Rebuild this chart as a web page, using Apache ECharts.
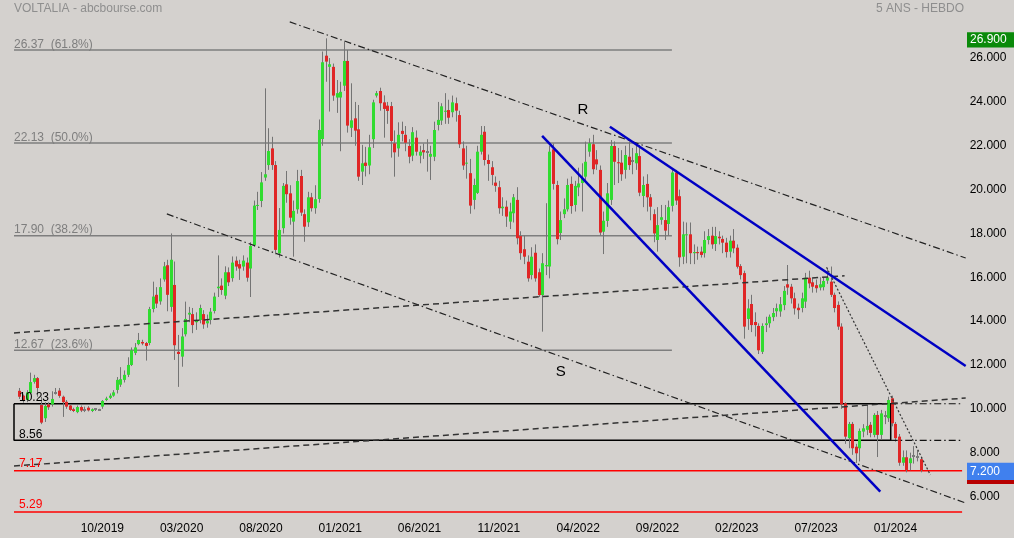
<!DOCTYPE html>
<html><head><meta charset="utf-8">
<script src="https://cdn.jsdelivr.net/npm/echarts@6/dist/echarts.min.js"></script>
<style>html,body{margin:0;padding:0;background:#d4d1ce}#c{width:1014px;height:538px}</style>
</head><body><div id="c"></div>
<script>
// ---- weekly OHLC (oldest first) ----
const opens = [
10.82,10.60,10.40,10.72,11.23,11.40,10.17,9.57,10.20,10.20,
10.74,10.83,10.55,10.32,10.15,9.98,9.85,10.08,9.95,10.05,
9.90,9.97,9.96,10.10,10.40,10.50,10.60,10.86,11.10,11.32,
11.55,12.00,12.55,12.95,13.05,13.00,13.00,14.55,15.20,14.90,
15.90,16.55,14.65,15.65,12.60,12.38,13.40,14.30,14.32,13.95,
14.05,14.32,13.90,14.05,14.46,15.50,15.62,15.16,16.23,15.96,
16.76,16.60,16.49,16.67,16.40,17.47,19.27,19.48,20.55,21.12,
21.88,21.12,17.09,18.24,20.24,19.83,18.54,19.10,20.62,18.88,
18.51,19.65,19.15,19.57,22.31,26.11,25.60,25.60,24.20,24.20,
24.74,25.87,22.82,23.25,22.75,20.82,21.23,21.10,22.30,24.29,
24.50,23.98,23.83,23.81,22.11,21.88,22.68,22.50,21.99,21.55,
22.37,21.55,21.80,21.72,21.50,21.50,22.95,23.15,23.55,23.63,
23.53,23.94,23.40,21.88,21.20,20.75,19.53,19.85,21.73,22.64,
21.35,21.02,20.32,20.11,19.15,19.22,18.54,18.92,19.53,17.88,
17.28,16.71,16.10,17.12,16.23,15.19,16.50,16.49,21.84,20.21,
18.02,18.88,19.10,20.26,19.30,20.10,20.30,20.59,21.73,22.07,
21.38,20.90,18.08,18.57,19.53,21.99,21.25,21.23,20.90,21.50,
21.30,21.20,21.53,19.71,20.26,19.65,18.88,17.70,18.62,18.61,
18.43,19.26,20.78,19.70,16.94,17.93,17.96,17.10,17.15,17.17,
17.10,17.70,17.90,17.52,17.85,17.75,17.58,17.17,17.67,17.35,
16.51,16.19,14.10,14.78,13.96,13.78,12.60,13.82,13.90,14.18,
14.45,14.44,14.73,15.68,15.57,15.04,14.61,14.60,14.89,15.98,
15.77,15.64,15.53,15.55,15.85,15.80,15.20,14.74,13.75,10.25,
8.66,9.31,8.27,8.20,8.96,9.04,9.27,8.81,9.72,8.81,
9.63,9.57,10.48,9.31,8.73,7.54,7.79,7.52,7.83,7.85,
7.70];
const closes = [
10.55,10.40,10.75,11.22,11.40,10.95,9.37,10.13,10.07,10.45,
10.74,10.59,10.30,10.10,9.95,9.90,10.08,9.92,9.95,9.93,
9.98,9.97,9.96,10.36,10.47,10.60,10.75,11.32,11.35,11.55,
12.00,12.67,12.80,13.14,12.98,12.87,14.55,15.12,14.80,15.55,
16.50,15.20,16.80,12.90,12.50,13.30,14.10,14.38,13.82,14.05,
14.60,13.85,14.00,14.43,15.12,15.57,15.42,16.23,15.77,16.67,
16.49,16.40,16.76,15.98,17.43,19.27,19.30,20.33,20.70,21.76,
21.12,17.25,18.16,20.17,19.79,18.72,19.03,20.39,18.95,18.31,
19.65,19.15,19.56,22.72,25.81,25.84,25.72,24.29,24.40,24.46,
25.87,22.92,23.16,22.69,20.59,21.20,21.08,21.93,23.98,24.40,
23.94,23.68,23.59,22.22,21.70,22.50,22.54,22.14,21.50,22.62,
21.73,21.73,21.70,21.72,21.63,22.72,23.18,23.80,23.60,23.28,
23.98,23.60,22.07,21.10,21.23,19.27,20.21,21.73,22.50,21.35,
21.17,20.67,20.17,19.15,19.22,18.77,19.00,19.65,17.78,17.10,
16.94,15.95,16.94,15.95,15.19,16.64,16.56,21.73,20.26,17.74,
18.61,19.10,20.21,19.25,20.17,20.28,20.53,21.27,22.11,20.93,
21.15,18.04,18.58,19.83,21.99,21.27,21.20,20.70,21.58,21.12,
21.32,21.66,19.86,20.21,19.65,19.22,18.00,18.38,18.74,18.13,
19.20,20.78,19.50,16.91,17.96,17.96,17.10,17.15,17.10,17.02,
17.70,17.88,17.50,17.88,17.78,17.58,17.15,17.67,17.32,16.48,
16.10,13.75,14.58,13.82,13.82,12.67,13.78,13.90,14.20,14.37,
14.59,14.77,15.38,15.53,15.04,14.58,14.50,15.04,15.98,15.72,
15.57,15.50,15.68,15.83,15.99,15.20,14.60,13.75,10.20,8.73,
9.31,8.20,7.97,8.99,9.11,9.22,8.90,9.72,8.81,9.79,
9.65,10.40,9.34,8.66,7.54,7.79,7.21,7.74,7.85,7.82,
7.20];
const lows = [
10.45,10.28,10.30,10.65,11.15,10.55,9.30,9.40,9.95,10.10,
10.65,10.50,9.63,10.00,9.90,9.85,9.80,9.85,9.85,9.88,
9.85,9.90,9.90,10.00,10.35,10.45,10.55,10.70,11.00,11.20,
11.45,11.95,12.45,12.90,12.90,12.20,12.90,14.40,14.60,14.75,
15.80,14.45,14.43,12.23,11.00,11.92,13.30,13.95,13.45,13.60,
13.90,13.65,13.70,13.85,14.35,15.10,15.20,15.00,15.60,15.80,
16.30,15.88,16.30,15.80,15.10,17.40,19.07,19.20,20.40,20.90,
20.90,17.05,16.90,18.00,19.40,18.40,16.94,18.90,18.80,17.62,
18.30,19.00,18.90,19.40,22.00,24.92,23.56,24.05,23.50,21.75,
24.50,22.60,22.40,22.00,20.40,20.21,20.60,20.70,21.90,24.20,
23.60,22.37,23.00,21.46,20.59,21.50,22.20,21.75,21.20,21.30,
21.55,21.20,21.40,20.82,20.44,21.30,22.70,22.95,23.00,23.00,
23.30,23.10,21.90,20.90,20.50,18.90,19.10,19.80,21.60,21.10,
20.40,20.20,19.90,18.90,18.80,18.30,18.20,18.50,17.50,16.80,
16.60,15.80,15.90,15.80,15.10,13.52,16.10,15.95,20.00,17.50,
17.70,18.70,19.00,18.90,19.00,19.70,19.00,20.40,21.50,20.70,
20.90,17.90,17.06,18.30,19.30,20.21,20.30,20.40,20.50,20.90,
20.70,20.90,19.70,19.20,19.00,18.60,17.60,17.17,18.40,17.70,
17.90,19.00,19.30,16.48,16.60,16.64,16.60,16.60,16.80,16.90,
16.90,17.50,17.30,17.20,17.50,17.10,16.90,16.90,17.10,16.40,
15.90,13.20,13.60,13.50,13.30,12.50,12.50,13.50,13.70,14.00,
14.20,14.20,14.50,15.20,14.80,14.30,14.10,14.40,14.60,15.50,
15.30,15.30,15.40,15.40,15.70,15.10,14.40,13.60,10.00,8.40,
8.20,7.90,7.53,7.60,8.70,8.80,8.70,8.70,7.80,8.60,
9.30,9.40,9.20,8.50,7.40,7.40,7.10,7.20,7.50,7.60,
7.10];
const highs = [
10.95,10.65,10.85,11.65,11.55,11.45,10.55,10.30,10.30,10.80,
10.95,10.95,10.60,10.40,10.20,10.05,10.15,10.15,10.10,10.12,
10.02,10.03,10.00,10.40,10.55,10.70,10.85,11.45,11.90,11.75,
12.35,12.80,13.00,13.46,13.15,13.05,14.65,15.80,15.55,15.95,
16.70,16.80,18.00,16.72,13.37,13.68,14.89,14.65,14.60,14.40,
14.75,14.50,14.30,14.60,15.30,17.00,15.95,16.50,16.45,16.95,
16.95,16.80,17.00,16.90,17.60,19.50,19.90,20.80,24.62,22.80,
22.41,21.30,19.16,20.30,20.85,20.20,19.50,20.90,20.90,19.10,
19.90,19.85,20.20,23.20,26.30,26.90,26.00,25.75,25.00,24.92,
26.75,26.37,24.85,24.00,23.86,22.04,21.95,22.50,24.10,24.50,
24.65,24.30,24.00,24.00,22.70,23.07,23.10,22.90,22.30,22.85,
22.70,22.00,22.10,22.30,22.00,23.10,24.00,23.94,24.40,24.10,
24.29,24.20,23.60,22.20,22.00,21.40,20.50,22.00,22.90,22.90,
21.60,21.30,20.60,20.40,19.65,19.50,19.40,19.80,20.11,18.10,
17.90,17.00,17.37,17.50,16.40,17.10,19.38,22.00,22.10,20.40,
19.00,19.60,20.50,20.60,20.40,21.00,21.20,22.19,22.34,22.50,
21.80,21.10,19.00,20.30,22.26,22.20,21.90,21.80,22.00,22.20,
21.90,22.10,22.04,20.60,20.70,19.80,19.10,19.20,19.30,19.30,
19.50,20.90,20.90,20.00,18.54,18.50,18.50,17.50,17.40,17.40,
18.10,18.20,18.30,18.30,18.10,17.90,17.80,17.90,18.20,17.50,
16.60,16.30,15.00,15.20,14.40,13.90,13.90,14.20,14.30,14.60,
14.80,15.10,15.60,16.56,15.70,15.30,14.80,15.30,16.20,16.30,
15.95,15.90,16.00,16.00,16.40,16.49,15.30,14.90,13.90,10.30,
9.40,9.40,8.40,9.10,9.30,10.21,9.40,9.80,9.90,9.95,
9.90,10.55,10.60,9.40,8.85,8.10,8.10,8.00,8.30,8.10,
7.75];

// ---- x tick labels: one every 22 weeks, first at week 23 ----
const tickLabels = ['10/2019','03/2020','08/2020','01/2021','06/2021','11/2021','04/2022','09/2022','02/2023','07/2023','01/2024'];
const FIRST_TICK_WEEK = 23;
const TICK_STEP = 22;

// ---- annotation levels ----
const fibLevels = [26.37, 22.13, 17.90, 12.67];
const fibPcts = ['61.8%', '50.0%', '38.2%', '23.6%'];
const fibEndWeek = 181;
const boxLevels = [10.23, 8.56];
const boxEndWeek = 241.7;
const redLevels = [7.17, 5.29];
const lastPrice = 7.2;
const highestPrice = 26.9;
// trend lines: [weekStart, priceStart, weekEnd, priceEnd]
const resistLine = [75.0, 27.65, 262.5, 16.88];
const supportLine = [40.9, 18.89, 262.5, 5.70];
const dashUpper = [-1.5, 13.46, 228.9, 16.07];
const dashLower = [-1.5, 7.39, 262.5, 10.49];
const dottedLine = [223.9, 16.46, 252.7, 6.98];
const blueLower = [145.0, 22.45, 238.8, 6.22];
const blueUpper = [163.8, 22.87, 262.5, 11.95];
const labelR = [156.3, 23.63];
const labelS = [150.2, 11.70];

const PAD_LEFT = 1, PAD_RIGHT = 12;
const N = opens.length;
const NCAT = PAD_LEFT + N + PAD_RIGHT;
const categories = Array.from({length: NCAT}, (_, i) => String(i));
const cx = w => w + PAD_LEFT; // week index -> category coordinate
const LEFT_EDGE = -1.5, RIGHT_EDGE = NCAT - 1.5 - PAD_LEFT; // in week units

const candleData = opens.map((o, k) => [cx(k), o, closes[k], lows[k], highs[k]]);

const FONT = '"Liberation Sans", Arial, sans-serif';

function seg(points, style, z) {
  return {
    type: 'line', xAxisIndex: 1, yAxisIndex: 0, silent: true, animation: false,
    symbol: 'none', clip: false, z: z,
    data: points.map(p => [cx(p[0]), p[1]]),
    lineStyle: style
  };
}
function tl(a) { return [[a[0], a[1]], [a[2], a[3]]]; }

const series = [];
// horizontal levels (behind candles)
fibLevels.forEach(v => series.push(seg([[LEFT_EDGE, v], [fibEndWeek, v]], {color: '#7e7e7e', width: 1.5}, 1)));
series.push(seg([[LEFT_EDGE, boxLevels[0]], [boxEndWeek, boxLevels[0]], [boxEndWeek, boxLevels[1]], [LEFT_EDGE, boxLevels[1]], [LEFT_EDGE, boxLevels[0]]], {color: '#000', width: 1.5}, 1));
redLevels.forEach(v => series.push(seg([[LEFT_EDGE, v], [RIGHT_EDGE, v]], {color: '#ff0000', width: 1.5}, 1)));

// candles
series.push({
  type: 'custom', xAxisIndex: 0, yAxisIndex: 0, z: 2, animation: false, silent: true,
  encode: {x: 0, y: [1, 2, 3, 4]},
  data: candleData,
  renderItem: function (params, api) {
    const c = api.value(0), o = api.value(1), cl = api.value(2), lo = api.value(3), hi = api.value(4);
    const pO = api.coord([c, o]), pC = api.coord([c, cl]), pL = api.coord([c, lo]), pH = api.coord([c, hi]);
    const X = Math.round(pO[0]);
    const kids = [{type: 'line', shape: {x1: X + 0.5, y1: pH[1], x2: X + 0.5, y2: pL[1]}, style: {stroke: '#747474', lineWidth: 1}}];
    const top = Math.min(pO[1], pC[1]), bot = Math.max(pO[1], pC[1]);
    if (Math.abs(cl - o) < 0.03) {
      kids.push({type: 'rect', shape: {x: X - 1, y: Math.round(pC[1]) - 1, width: 3, height: 2}, style: {fill: '#7a7a7a'}});
    } else {
      const up = cl > o;
      kids.push({type: 'rect', shape: {x: X - 1, y: top, width: 3, height: Math.max(bot - top, 1)},
        style: {fill: up ? '#30dc30' : '#e02626'}});
    }
    return {type: 'group', children: kids};
  }
});

// trend lines (over candles)
const dashDot = [7, 3, 1.5, 3];
series.push(seg(tl(resistLine), {color: '#222', width: 1.2, type: dashDot}, 3));
series.push(seg(tl(supportLine), {color: '#222', width: 1.2, type: dashDot}, 3));
series.push(seg([[boxEndWeek, boxLevels[0]], [RIGHT_EDGE, boxLevels[0]]], {color: '#111', width: 1.2, type: dashDot}, 3));
series.push(seg([[boxEndWeek, boxLevels[1]], [RIGHT_EDGE, boxLevels[1]]], {color: '#111', width: 1.2, type: dashDot}, 3));
series.push(seg(tl(dashUpper), {color: '#333', width: 1.5, type: [6, 4]}, 3));
series.push(seg(tl(dashLower), {color: '#333', width: 1.5, type: [6, 4]}, 3));
series.push(seg(tl(dottedLine), {color: '#333', width: 1.2, type: [2, 2]}, 3));
series.push(seg(tl(blueLower), {color: '#0000c4', width: 2.5}, 4));
series.push(seg(tl(blueUpper), {color: '#0000c4', width: 2.5}, 4));

const chart = echarts.init(document.getElementById('c'), null, {renderer: 'canvas'});
chart.setOption({
  backgroundColor: '#d4d1ce',
  animation: false,
  textStyle: {fontFamily: FONT},
  grid: {left: 14, right: 48.3, top: 1.1, bottom: 19.6, containLabel: false},
  xAxis: [{
    type: 'category', data: categories, boundaryGap: true,
    axisLine: {show: false}, axisTick: {show: false}, splitLine: {show: false},
    axisLabel: {
      color: '#000', fontSize: 12, fontFamily: FONT, margin: 4,
      interval: function (idx) {
        const k = idx - PAD_LEFT - FIRST_TICK_WEEK;
        return k >= 0 && k % TICK_STEP === 0 && k / TICK_STEP < tickLabels.length;
      },
      formatter: function (val, idx) {
        const k = idx - PAD_LEFT - FIRST_TICK_WEEK;
        return tickLabels[k / TICK_STEP] || '';
      }
    }
  }, {
    type: 'value', min: -0.5, max: NCAT - 0.5, show: false
  }],
  yAxis: {
    type: 'value', position: 'right', min: 5, max: 28.6, interval: 1,
    axisLine: {show: false}, axisTick: {show: false}, splitLine: {show: false},
    axisLabel: {
      color: '#000', fontSize: 12, fontFamily: FONT, margin: 4, padding: [0, 0, 5, 0],
      showMaxLabel: false, showMinLabel: false,
      formatter: v => (v >= 6 && v <= 26 && Math.round(v) % 2 === 0) ? v.toFixed(3) : ''
    }
  },
  series: series
});

// ---- text annotations and price tags, positioned via the chart's scales ----
const yPx = v => chart.convertToPixel({yAxisIndex: 0}, v);
const xyPx = (w, v) => chart.convertToPixel({xAxisIndex: 1, yAxisIndex: 0}, [cx(w), v]);
const txt = (text, x, y, fill, size, align) => ({
  type: 'text', x: x, y: y, silent: true, z: 100,
  style: {text: text, fill: fill, font: size + 'px ' + FONT, align: align || 'left', verticalAlign: 'middle'}
});
const gfx = [];
gfx.push(txt('VOLTALIA - abcbourse.com', 14, 9, '#8e8e8e', 12));
gfx.push(txt('5 ANS - HEBDO', 964, 9, '#8e8e8e', 12, 'right'));
fibLevels.forEach((v, i) => gfx.push(txt(v.toFixed(2) + '  (' + fibPcts[i] + ')', 14, yPx(v) - 5.5, '#7e7e7e', 12)));
gfx.push(txt(boxLevels[0].toFixed(2), 19, yPx(boxLevels[0]) - 6.5, '#000', 12));
gfx.push(txt(boxLevels[1].toFixed(2), 19, yPx(boxLevels[1]) - 6, '#000', 12));
redLevels.forEach(v => gfx.push(txt(v.toFixed(2), 19, yPx(v) - 7, '#ff0000', 12)));
const pR = xyPx(labelR[0], labelR[1]), pS = xyPx(labelS[0], labelS[1]);
gfx.push(txt('R', pR[0], pR[1], '#000', 15, 'center'));
gfx.push(txt('S', pS[0], pS[1], '#000', 15, 'center'));
// price tags
const yHi = yPx(highestPrice) + 1.5, yLast = yPx(lastPrice) + 1.2;
gfx.push({type: 'rect', silent: true, z: 99, shape: {x: 967, y: yHi - 7.7, width: 47, height: 15.4}, style: {fill: '#0a8a0a'}});
gfx.push(txt(highestPrice.toFixed(3), 970, yHi, '#ffffff', 12));
gfx.push({type: 'rect', silent: true, z: 99, shape: {x: 967, y: yLast - 8.6, width: 47, height: 17.2}, style: {fill: '#4080ee'}});
gfx.push({type: 'rect', silent: true, z: 99, shape: {x: 967, y: yLast + 8.6, width: 47, height: 4}, style: {fill: '#b80000'}});
gfx.push(txt(lastPrice.toFixed(3), 970, yLast, '#ffffff', 12));
chart.setOption({graphic: gfx});
</script>
</body></html>
